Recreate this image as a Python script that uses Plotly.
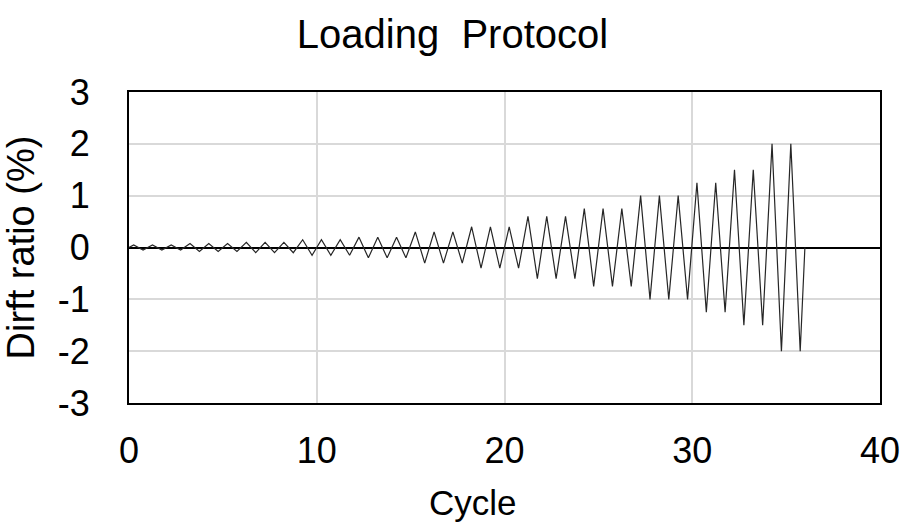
import plotly.graph_objects as go

# drift amplitude (%) for each loading cycle
amplitudes = [0.05, 0.05, 0.05,
              0.075, 0.075, 0.075,
              0.1, 0.1, 0.1,
              0.15, 0.15, 0.15,
              0.2, 0.2, 0.2,
              0.3, 0.3, 0.3,
              0.4, 0.4, 0.4,
              0.6, 0.6, 0.6,
              0.75, 0.75, 0.75,
              1.0, 1.0, 1.0,
              1.25, 1.25,
              1.5, 1.5,
              2.0, 2.0]

x_ticks = [0, 10, 20, 30, 40]
y_ticks = [-3, -2, -1, 0, 1, 2, 3]
y_labels = ["-3", "-2", "-1", "0", "1", "2", "3"]

# each cycle: start at zero, push to +amp, pull to -amp, back to zero at the end
cycle = [0.0]
drift = [0.0]
for n, a in enumerate(amplitudes):
    cycle += [n + 0.25, n + 0.75]
    drift += [a, -a]
cycle.append(len(amplitudes))
drift.append(0.0)

font = "Liberation Sans, Arial, sans-serif"
W, H = 905, 524
L, R, T, B = 129, 25, 92, 121

fig = go.Figure()
fig.add_trace(go.Scatter(x=cycle, y=drift, mode="lines",
                         line=dict(color="#262626", width=1.2),
                         showlegend=False))

fig.update_layout(
    width=W, height=H,
    paper_bgcolor="white", plot_bgcolor="white",
    margin=dict(l=L, r=R, t=T, b=B),
    font=dict(family=font, size=36, color="black"),
    title=dict(text="Loading  Protocol", x=0.5, xanchor="center",
               y=1 - 34 / H, yanchor="middle", font=dict(size=40)),
)
# x title sits a little left of centre in the original
plot_w = W - L - R
plot_h = H - T - B
fig.add_annotation(text="Cycle", xref="paper", yref="paper",
                   x=(473 - L) / plot_w, y=-(503 - (H - B)) / plot_h,
                   xanchor="center", yanchor="middle", showarrow=False,
                   font=dict(size=35))

fig.update_xaxes(range=[0, 40], tickvals=x_ticks, showgrid=True,
                 gridcolor="#d9d9d9", gridwidth=2, zeroline=False,
                 showline=True, linecolor="black", linewidth=2, mirror=True,
                 ticks="", ticklabelstandoff=15, automargin=False)
fig.update_yaxes(range=[-3, 3], tickvals=y_ticks, ticktext=y_labels, showgrid=True,
                 gridcolor="#d9d9d9", gridwidth=2, zeroline=True,
                 zerolinecolor="black", zerolinewidth=2,
                 showline=True, linecolor="black", linewidth=2, mirror=True,
                 ticks="", ticklabelstandoff=30, automargin=False,
                 title=dict(text="Dirft ratio (%)", font=dict(size=38), standoff=14))

fig.write_html("out.html", config={"displayModeBar": False},
               post_script="document.body.style.margin='0';")
